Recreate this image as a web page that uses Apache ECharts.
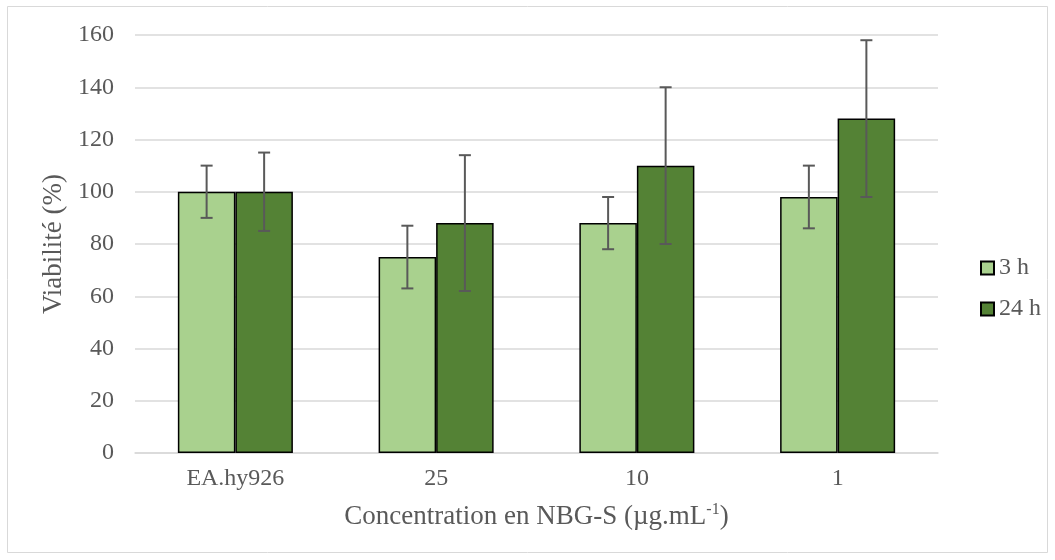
<!DOCTYPE html>
<html>
<head>
<meta charset="utf-8">
<script src="https://cdn.jsdelivr.net/npm/echarts@6/dist/echarts.min.js"></script>
<style>
  html, body { margin: 0; padding: 0; background: #fff; }
  #chart { width: 1055px; height: 560px; }
</style>
</head>
<body>
<div id="chart"></div>
<script>
// data
var categories = ['EA.hy926', '25', '10', '1'];
var seriesNames = ['3 h', '24 h'];
var values3h = [100, 75, 88, 98];
var err3h = [10, 12, 10, 12];
var values24h = [100, 88, 110, 128];
var err24h = [15, 26, 30, 30];
var yTicks = [0, 20, 40, 60, 80, 100, 120, 140, 160];

var gapRatio = 0.427;
var font = '"Liberation Serif", "Times New Roman", serif';

// error bar drawn next to a bar; side -1 = left bar, 1 = right bar
function errorBars(values, errs, side) {
    return {
        type: 'custom',
        z: 10,
        silent: true,
        data: values.map(function (v, i) { return [i, v - errs[i], v + errs[i]] }),
        renderItem: function (params, api) {
            var band = api.size([1, 0])[0]
            var barW = band * (1 - gapRatio) / 2
            var lo = api.coord([api.value(0), api.value(1)])
            var hi = api.coord([api.value(0), api.value(2)])
            var x = lo[0] + side * barW / 2
            var cap = 6
            var style = { stroke: '#595959', lineWidth: 2 }
            return {
                type: 'group',
                children: [
                    { type: 'line', shape: { x1: x, y1: lo[1], x2: x, y2: hi[1] }, style: style },
                    { type: 'line', shape: { x1: x - cap, y1: lo[1], x2: x + cap, y2: lo[1] }, style: style },
                    { type: 'line', shape: { x1: x - cap, y1: hi[1], x2: x + cap, y2: hi[1] }, style: style }
                ]
            }
        }
    }
}

var chart = echarts.init(document.getElementById('chart'))
chart.setOption({
    animation: false,
    backgroundColor: '#fff',
    graphic: [{
        type: 'rect',
        shape: { x: 7.5, y: 6.5, width: 1040, height: 546 },
        style: { fill: 'none', stroke: '#d9d9d9', lineWidth: 1 },
        z: -1
    }],
    grid: { left: 135, right: 117, top: 35, bottom: 107 },
    legend: {
        orient: 'vertical',
        left: 975,
        top: 251,
        icon: 'rect',
        itemWidth: 13,
        itemHeight: 13,
        itemGap: 17,
        data: seriesNames,
        textStyle: { fontFamily: font, fontSize: 24, color: '#595959' }
    },
    xAxis: {
        type: 'category',
        data: categories,
        axisLine: { lineStyle: { color: '#d9d9d9', width: 1.5 } },
        axisTick: { show: false },
        axisLabel: { fontFamily: font, fontSize: 24, color: '#595959', margin: 14 },
        name: '{a|Concentration en NBG-S (µg.mL}{s|-1}{a|)}',
        nameLocation: 'middle',
        nameGap: 49,
        nameTextStyle: {
            rich: {
                a: { fontFamily: font, fontSize: 27, color: '#595959', lineHeight: 30 },
                s: { fontFamily: font, fontSize: 16, color: '#595959', verticalAlign: 'top', lineHeight: 30 }
            }
        }
    },
    yAxis: {
        type: 'value',
        min: yTicks[0],
        max: yTicks[yTicks.length - 1],
        interval: 20,
        axisLine: { show: false },
        axisTick: { show: false },
        splitLine: { lineStyle: { color: '#d9d9d9', width: 1.5 } },
        axisLabel: { fontFamily: font, fontSize: 24, color: '#595959', margin: 21 },
        name: 'Viabilité (%)',
        nameLocation: 'middle',
        nameGap: 68,
        nameTextStyle: { fontFamily: font, fontSize: 27, color: '#595959' }
    },
    series: [
        {
            name: seriesNames[0],
            type: 'bar',
            data: values3h,
            barGap: '0%',
            barCategoryGap: (gapRatio * 100) + '%',
            itemStyle: { color: '#a9d18e', borderColor: '#000', borderWidth: 1.5 }
        },
        {
            name: seriesNames[1],
            type: 'bar',
            data: values24h,
            barGap: '0%',
            barCategoryGap: (gapRatio * 100) + '%',
            itemStyle: { color: '#548235', borderColor: '#000', borderWidth: 1.5 }
        },
        errorBars(values3h, err3h, -1),
        errorBars(values24h, err24h, 1)
    ]
})
window.addEventListener('resize', function () { chart.resize() })
</script>
</body>
</html>
